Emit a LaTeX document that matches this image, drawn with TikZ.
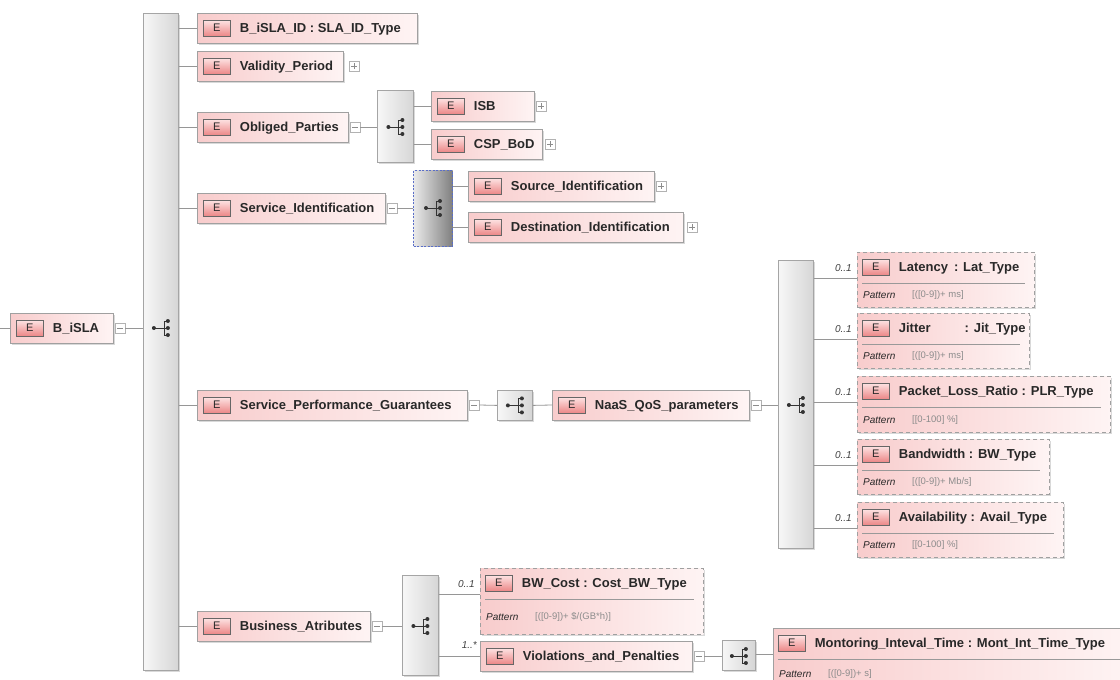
\documentclass[tikz,border=0pt]{standalone}
\usepackage{fontspec}
\setmainfont{Liberation Sans}
\usetikzlibrary{shadows}

\definecolor{elpinkL}{RGB}{248,204,204}
\definecolor{elpinkR}{RGB}{254,244,244}
\definecolor{elborder}{RGB}{160,160,160}
\definecolor{linegray}{RGB}{150,150,150}
\definecolor{iconTop}{RGB}{253,228,228}
\definecolor{iconBot}{RGB}{236,135,135}
\definecolor{seqL}{RGB}{247,247,247}
\definecolor{seqR}{RGB}{214,214,214}
\definecolor{seqborder}{RGB}{165,165,165}
\definecolor{blueborder}{RGB}{90,110,200}
\definecolor{textdark}{RGB}{40,40,40}
\definecolor{patgray}{RGB}{140,140,140}

\tikzset{
  elbox/.style={draw=elborder, line width=0.8pt, left color=elpinkL, right color=elpinkR,
    minimum height=30pt, inner sep=0pt,
    general shadow={fill=black!15, shadow xshift=2pt, shadow yshift=-2pt}},
  optbox/.style={elbox, dash pattern=on 4pt off 3pt},
  eicon/.style={draw=black!60, line width=0.7pt, top color=iconTop, bottom color=iconBot,
    minimum width=27pt, minimum height=16pt, inner sep=0pt,
    font=\fontsize{11}{11}\selectfont, text=textdark},
  elname/.style={inner sep=0pt, font=\bfseries\fontsize{13}{13}\selectfont, text=textdark,
    text height=9.3pt, text depth=0pt},
  pmbox/.style={draw=black!30, fill=white, minimum size=10pt, inner sep=0pt, line width=0.6pt},
  pmsign/.style={draw=black!45, line width=0.7pt},
  seqbox/.style={draw=seqborder, line width=0.8pt, left color=seqL, right color=seqR, inner sep=0pt,
    general shadow={fill=black!15, shadow xshift=2pt, shadow yshift=-2pt}},
  seqsel/.style={draw=blueborder, line width=1pt, dash pattern=on 2pt off 1.5pt,
    left color=black!8, right color=black!50, inner sep=0pt},
  link/.style={draw=linegray, line width=0.8pt},
  card/.style={inner sep=0pt, font=\itshape\fontsize{10}{10}\selectfont, text=black!75},
  patlabel/.style={inner sep=0pt, font=\itshape\fontsize{10}{10}\selectfont, text=textdark},
  patvalue/.style={inner sep=0pt, font=\fontsize{9.5}{9.5}\selectfont, text=patgray},
  sepline/.style={draw=black!40, line width=0.6pt},
  seqicon/.pic={
    \draw[black!80, line width=0.8pt] (-7,0) -- (3,0) (3,-7) -- (3,7)
      (3,-7) -- (7,-7) (3,7) -- (7,7) (3,0) -- (7,0);
    \fill[black!80] (-7,0) circle (2pt) (7,-7) circle (2pt) (7,0) circle (2pt) (7,7) circle (2pt);
  },
}

% element box: id, left x, centre y, width, label
\newcommand\elnode[5]{%
  \node[elbox, anchor=west, minimum width=#4pt] (#1) at (#2,#3) {};
  \node[eicon, anchor=west] (#1-e) at ([xshift=6pt]#1.west) {E};
  \node[elname, anchor=west] (#1-t) at ([xshift=9pt]#1-e.east) {#5};
}
% collapse / expand buttons: owner id, gap
\newcommand\minusnode[2]{%
  \node[pmbox, anchor=west] (#1-pm) at ([xshift=#2pt]#1.east) {};
  \draw[pmsign] ([xshift=-3pt]#1-pm.center) -- ([xshift=3pt]#1-pm.center);
}
\newcommand\plusnode[2]{%
  \node[pmbox, anchor=west] (#1-pm) at ([xshift=#2pt]#1.east) {};
  \draw[pmsign] ([xshift=-3pt]#1-pm.center) -- ([xshift=3pt]#1-pm.center)
    ([yshift=-3pt]#1-pm.center) -- ([yshift=3pt]#1-pm.center);
}
% element with a pattern facet: id, left, top, width, height, header, pattern, cardinality, box style
\newcommand\patnode[9]{%
  \node[#9, anchor=north west, minimum width=#4pt, minimum height=#5pt] (#1) at (#2,#3) {};
  \node[eicon, anchor=west] (#1-e) at ([xshift=5pt,yshift=-15pt]#1.north west) {E};
  \node[elname, anchor=west] (#1-t) at ([xshift=9pt]#1-e.east) {#6};
  \draw[sepline] ([xshift=5pt,yshift=-31pt]#1.north west) -- ([xshift=-10pt,yshift=-31pt]#1.north east);
  \path ([yshift=-31pt]#1.north west) -- (#1.south west) coordinate[midway] (#1-pr);
  \node[patlabel, anchor=west] (#1-pl) at ([xshift=6pt]#1-pr) {Pattern};
  \node[patvalue, anchor=west] (#1-pv) at ([xshift=55pt]#1-pr) {#7};
  \coordinate (#1-in) at ([yshift=-26pt]#1.north west);
  \node[card, anchor=east] (#1-c) at ([xshift=-5pt,yshift=10pt]#1-in) {#8};
}

\begin{document}
\begin{tikzpicture}[x=1pt, y=-1pt]
\useasboundingbox (0,0) rectangle (1120,680);
\fill[white] (0,0) rectangle (1120,680);
\clip (0,0) rectangle (1120,680);

% sequence compositors
\node[seqbox, anchor=north west, minimum width=35pt, minimum height=657pt] (mainseq) at (143,13) {};
\node[seqbox, anchor=north west, minimum width=36pt, minimum height=72pt] (obseq) at (377,90) {};
\node[seqsel, anchor=north west, minimum width=39pt, minimum height=76pt] (sidseq) at (413,170) {};
\node[seqbox, anchor=north west, minimum width=35pt, minimum height=30pt] (spgseq) at (497,390) {};
\node[seqbox, anchor=north west, minimum width=35pt, minimum height=288pt] (qosseq) at (778,260) {};
\node[seqbox, anchor=north west, minimum width=36pt, minimum height=100pt] (busseq) at (402,575) {};
\node[seqbox, anchor=north west, minimum width=33pt, minimum height=30pt] (violseq) at (722,640) {};

% root
\coordinate (stub) at (0,328);
\elnode{bisla}{10}{328}{103}{B\_iSLA}
\minusnode{bisla}{1}

% children of the root sequence
\elnode{slaid}{197}{28}{220}{B\_iSLA\_ID : SLA\_ID\_Type}
\elnode{validity}{197}{66}{146}{Validity\_Period}
\plusnode{validity}{5}
\elnode{obliged}{197}{127}{151}{Obliged\_Parties}
\minusnode{obliged}{1}
\elnode{servid}{197}{208}{188}{Service\_Identification}
\minusnode{servid}{1}
\elnode{spg}{197}{405}{270}{Service\_Performance\_Guarantees}
\minusnode{spg}{1}
\elnode{business}{197}{626}{173}{Business\_Atributes}
\minusnode{business}{1}

% obliged parties
\elnode{isb}{431}{106}{103}{ISB}
\plusnode{isb}{1}
\elnode{csp}{431}{144}{111}{CSP\_BoD}
\plusnode{csp}{2}

% service identification
\elnode{srcid}{468}{186}{186}{Source\_Identification}
\plusnode{srcid}{1}
\elnode{dstid}{468}{227}{215}{Destination\_Identification}
\plusnode{dstid}{3}

% performance guarantees
\elnode{naas}{552}{405}{197}{NaaS\_QoS\_parameters}
\minusnode{naas}{1}
\patnode{lat}{857}{252}{177}{55}{Latency\hspace{6pt}: Lat\_Type}{[([0-9])+ ms]}{0..1}{optbox}
\patnode{jit}{857}{313}{172}{55}{Jitter\hspace{34pt}: Jit\_Type}{[([0-9])+ ms]}{0..1}{optbox}
\patnode{plr}{857}{376}{253}{56}{Packet\_Loss\_Ratio : PLR\_Type}{[[0-100] \%]}{0..1}{optbox}
\patnode{bwd}{857}{439}{192}{55}{Bandwidth : BW\_Type}{[([0-9])+ Mb/s]}{0..1}{optbox}
\patnode{avail}{857}{502}{206}{55}{Availability : Avail\_Type}{[[0-100] \%]}{0..1}{optbox}

% business attributes
\patnode{bwcost}{480}{568}{223}{66}{BW\_Cost : Cost\_BW\_Type}{[([0-9])+ \$/(GB*h)]}{0..1}{optbox}
\elnode{viol}{480}{656}{212}{Violations\_and\_Penalties}
\minusnode{viol}{1}
\node[card, anchor=east] (viol-c) at (477,645) {1..*};
\patnode{mon}{773}{628}{360}{60}{Montoring\_Inteval\_Time : Mont\_Int\_Time\_Type}{[([0-9])+ s]}{}{elbox}

% connectors
\draw[link] (stub) -- (bisla.west);
\draw[link] (bisla-pm.east) -- (mainseq.west |- bisla-pm.east);
\foreach \c in {slaid,validity,obliged,servid,spg,business}
  \draw[link] (mainseq.east |- \c.west) -- (\c.west);
\draw[link] (obliged-pm.east) -- (obseq.west |- obliged-pm.east);
\foreach \c in {isb,csp}
  \draw[link] (obseq.east |- \c.west) -- (\c.west);
\draw[link] (servid-pm.east) -- (sidseq.west |- servid-pm.east);
\foreach \c in {srcid,dstid}
  \draw[link] (sidseq.east |- \c.west) -- (\c.west);
\draw[link] (spg-pm.east) -- (spgseq.west);
\draw[link] (spgseq.east) -- (naas.west);
\draw[link] (naas-pm.east) -- (qosseq.west |- naas-pm.east);
\foreach \c in {lat,jit,plr,bwd,avail}
  \draw[link] (qosseq.east |- \c-in) -- (\c-in);
\draw[link] (business-pm.east) -- (busseq.west |- business-pm.east);
\draw[link] (busseq.east |- bwcost-in) -- (bwcost-in);
\draw[link] (busseq.east |- viol.west) -- (viol.west);
\draw[link] (viol-pm.east) -- (violseq.west |- viol-pm.east);
\draw[link] (violseq.east |- mon-in) -- (mon-in);

% compositor glyphs
\pic at (mainseq.center |- bisla.center) {seqicon};
\pic at (obseq.center |- obliged.center) {seqicon};
\pic at (sidseq.center |- servid.center) {seqicon};
\pic at (spgseq.center) {seqicon};
\pic at (qosseq.center |- naas.center) {seqicon};
\pic at (busseq.center |- business.center) {seqicon};
\pic at (violseq.center |- viol.center) {seqicon};
\end{tikzpicture}
\end{document}
